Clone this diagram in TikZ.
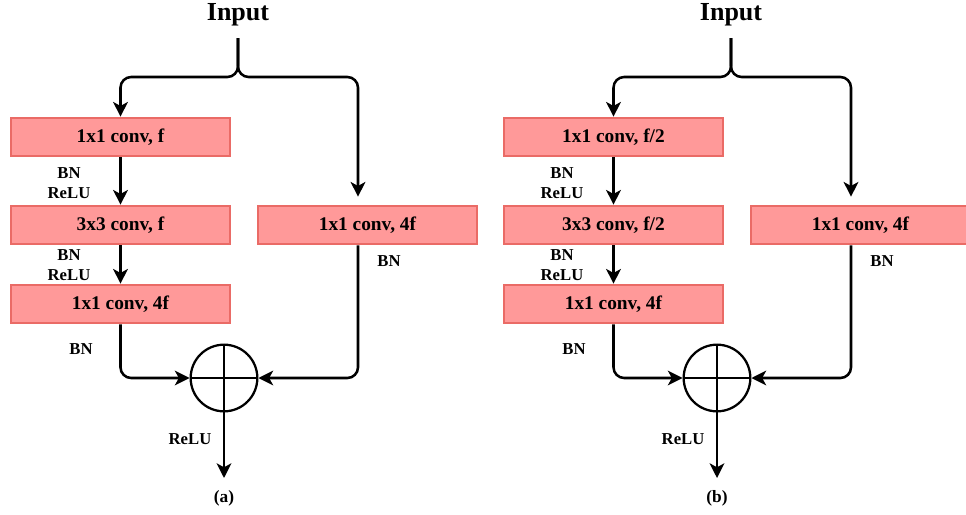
\documentclass[tikz,border=0pt]{standalone}
\usepackage{fontspec}
\setmainfont{Liberation Serif}
\usetikzlibrary{arrows.meta,calc}

\definecolor{convfill}{HTML}{FF9999}
\definecolor{convline}{HTML}{EA6B66}

\tikzset{
  conv/.style={draw=convline, fill=convfill, line width=1.5pt, minimum width=164pt, minimum height=29pt, font=\fontsize{14.5}{17}\selectfont\bfseries},
  lbl/.style={align=center, inner sep=0pt, font=\fontsize{12.5}{15}\selectfont\bfseries},
  flow/.style={line width=1.9pt, -{Stealth[length=11pt,width=11pt,inset=3pt]}, rounded corners=8pt},
  plus/.style={circle, draw, line width=1.7pt, minimum size=50pt, inner sep=0pt}
}

\begin{document}
\begin{tikzpicture}[x=0.75pt,y=-0.75pt]
\useasboundingbox (0,0) rectangle (966,514);
\foreach \p/\dx/\fa/\fb in {a/0/{f}/{f},b/493/{f/2}/{f/2}}{
\begin{scope}[shift={(\dx,0)}]
\node[font=\fontsize{19.5}{22}\selectfont\bfseries] (in\p) at (238,15) {Input};
\coordinate (top\p) at (238,38);
\coordinate (j\p) at (238,77);
\coordinate (rx\p) at (358,0);
% main path
\node[conv] (c1\p) at (120.5,137) {1x1 conv, \fa};
\node[conv] (c2\p) at (120.5,225) {3x3 conv, \fb};
\node[conv] (c3\p) at (120.5,304) {1x1 conv, 4f};
% shortcut
\node[conv] (c4\p) at (367.5,225) {1x1 conv, 4f};
\node[plus] (add\p) at (224,378) {};
\coordinate (out\p) at (224,478);

\draw[flow] (top\p) -- (j\p) -| (c1\p.north);
\draw[flow, shorten >=6pt] (top\p) -- (j\p) -| (c4\p.north -| rx\p);
\draw[flow] (c1\p) -- (c2\p);
\draw[flow] (c2\p) -- (c3\p);
\draw[flow] (c3\p.south) |- (add\p.west);
\draw[flow] (c4\p.south -| rx\p) |- (add\p.east);
\draw[line width=1.7pt] (add\p.north) -- (add\p.south) (add\p.west) -- (add\p.east);
\draw[flow] (add\p.south) -- (out\p);

\node[lbl] (l1\p) at (69,183) {BN\\ReLU};
\node[lbl] (l2\p) at (69,265) {BN\\ReLU};
\node[lbl] (l3\p) at (81,349) {BN};
\node[lbl] (l4\p) at (389,261) {BN};
\node[lbl] (l5\p) at (190,439) {ReLU};
\node[lbl, font=\fontsize{13}{15}\selectfont\bfseries] (cap\p) at (224,498) {(\p)};
\end{scope}
}
\end{tikzpicture}
\end{document}
